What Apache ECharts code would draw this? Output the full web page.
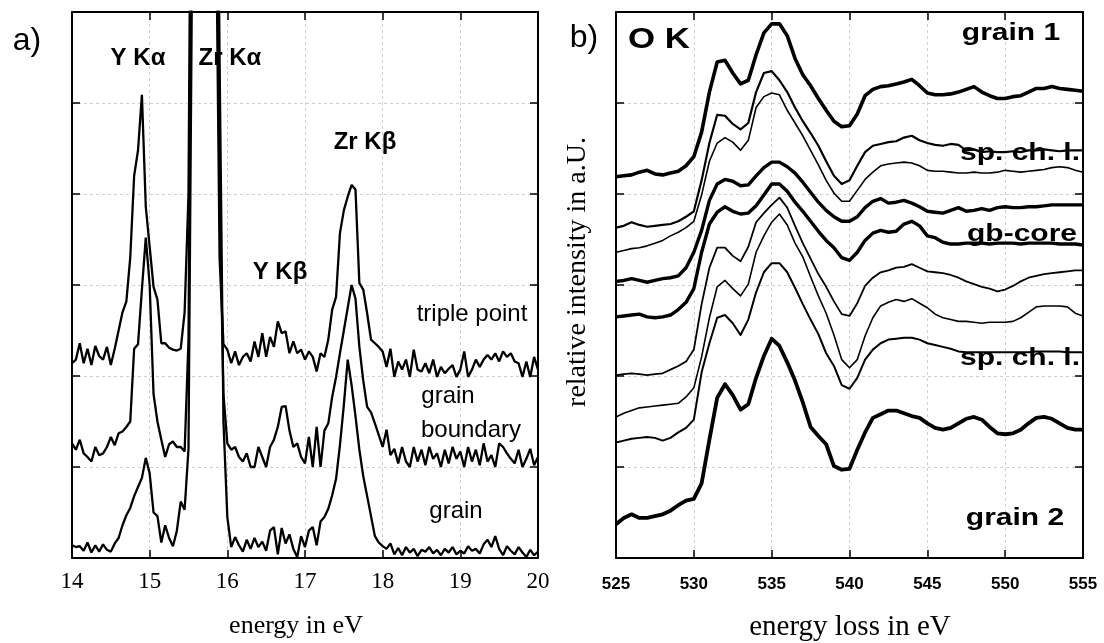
<!DOCTYPE html>
<html><head><meta charset="utf-8">
<script src="https://cdn.jsdelivr.net/npm/echarts/dist/echarts.min.js"></script>
<style>html,body{margin:0;padding:0;background:#fff}#c{width:1104px;height:643px}</style>
</head><body><div id="c"></div>
<script>
// ---------- panel a) : X-ray spectra, energy 14..20 eV, step 0.05 ----------
const eStartA = 14, eStepA = 0.05, nA = 121;
const triplePoint = [2.14,2.18,2.36,2.14,2.30,2.12,2.33,2.22,2.18,2.32,2.12,2.30,2.50,2.70,2.82,3.30,4.20,4.48,5.09,3.86,
 3.42,2.98,2.84,2.36,2.36,2.31,2.29,2.28,2.30,2.70,4.00,10.5,13,15,16,16,14,7.5,3.30,2.35,
 2.29,2.14,2.27,2.12,2.21,2.25,2.16,2.38,2.21,2.47,2.21,2.43,2.32,2.60,2.47,2.49,2.25,2.38,2.25,2.29,
 2.18,2.27,2.21,2.05,2.25,2.21,2.40,2.73,2.87,3.57,3.82,3.97,4.10,4.05,3.02,2.95,2.69,2.40,2.36,2.32,
 2.27,2.10,2.30,1.99,2.16,2.07,2.18,1.99,2.29,2.07,2.05,2.14,2.03,2.18,1.99,2.10,2.03,2.08,2.12,1.99,
 2.07,2.27,1.99,2.07,2.18,2.10,2.18,2.23,2.18,2.25,2.16,2.27,2.21,2.25,2.16,2.14,1.99,2.16,1.99,2.21,2.07];
const grainBoundary = [1.26,1.19,1.30,1.15,1.11,1.06,1.22,1.13,1.15,1.22,1.33,1.24,1.37,1.39,1.44,1.50,2.30,2.35,2.95,3.52,
 3.00,1.80,1.50,1.30,1.11,1.25,1.28,1.22,1.22,1.17,2.40,9,12.5,14.5,15.5,15.5,13.5,9,4.00,1.80,
 1.26,1.19,1.22,1.11,1.06,1.15,1.00,1.00,1.22,1.11,1.00,1.22,1.30,1.44,1.66,1.67,1.40,1.22,1.26,1.11,
 1.04,1.33,1.00,1.44,1.00,1.40,1.48,1.77,1.99,2.25,2.50,2.75,3.00,2.85,2.32,1.95,1.66,1.60,1.48,1.35,
 1.22,1.41,1.13,1.20,1.04,1.22,1.06,1.00,1.22,1.06,1.19,1.02,1.22,1.09,1.15,1.00,1.19,1.04,1.22,1.09,
 1.17,1.00,1.22,1.06,1.19,1.02,1.26,1.06,1.13,1.00,1.26,1.22,1.15,1.09,1.04,1.19,1.00,1.09,1.20,1.02,1.11];
const grainA = [0.14,0.12,0.13,0.08,0.17,0.06,0.14,0.07,0.15,0.09,0.07,0.16,0.22,0.36,0.47,0.55,0.68,0.78,0.88,1.10,
 0.93,0.50,0.46,0.17,0.36,0.22,0.13,0.30,0.62,0.53,1.20,7.0,12,14,15,15,13,10.5,5.5,1.5,
 0.45,0.12,0.23,0.14,0.07,0.20,0.10,0.22,0.12,0.18,0.08,0.30,0.34,0.04,0.33,0.16,0.26,0.10,0.01,0.24,
 0.12,0.30,0.34,0.14,0.40,0.45,0.54,0.69,0.87,1.24,1.68,2.18,1.90,1.56,1.19,0.90,0.68,0.46,0.24,0.17,
 0.13,0.10,0.16,0.04,0.11,0.03,0.12,0.06,0.10,0.02,0.09,0.07,0.12,0.05,0.09,0.03,0.10,0.06,0.12,0.04,
 0.08,0.05,0.13,0.08,0.10,0.05,0.15,0.20,0.12,0.24,0.10,0.03,0.13,0.08,0.04,0.12,0.06,0.01,0.09,0.03,0.07];

// ---------- panel b) : O K edge ELNES, 525..555 eV, step 0.5 ----------
const eStartB = 525, eStepB = 0.5, nB = 61;
const grain1 = [4.19,4.20,4.21,4.24,4.26,4.22,4.21,4.23,4.25,4.31,4.41,4.68,5.12,5.45,5.47,5.33,5.21,5.25,5.53,5.77,5.87,5.87,5.74,5.49,5.31,5.19,5.05,4.92,4.80,4.74,4.75,4.88,5.08,5.15,5.18,5.19,5.21,5.23,5.26,5.19,5.11,5.09,5.09,5.10,5.12,5.15,5.18,5.12,5.08,5.05,5.05,5.07,5.08,5.12,5.16,5.16,5.18,5.16,5.15,5.14,5.13];
const spch1a = [3.63,3.65,3.69,3.66,3.64,3.65,3.66,3.67,3.70,3.75,3.81,4.15,4.56,4.87,4.86,4.77,4.71,4.78,5.12,5.33,5.35,5.25,5.12,4.95,4.80,4.67,4.53,4.36,4.20,4.11,4.15,4.31,4.46,4.53,4.55,4.57,4.58,4.62,4.64,4.59,4.56,4.54,4.53,4.55,4.54,4.48,4.49,4.46,4.47,4.46,4.46,4.47,4.46,4.48,4.48,4.49,4.48,4.47,4.48,4.48,4.48];
const spch1b = [3.36,3.38,3.40,3.41,3.43,3.46,3.49,3.54,3.58,3.63,3.70,3.99,4.36,4.56,4.62,4.57,4.48,4.59,4.95,5.07,5.11,5.09,4.92,4.78,4.64,4.48,4.32,4.15,4.01,3.92,3.92,4.04,4.16,4.24,4.31,4.33,4.34,4.35,4.34,4.31,4.26,4.25,4.25,4.24,4.23,4.23,4.24,4.23,4.23,4.24,4.26,4.25,4.24,4.25,4.26,4.27,4.29,4.30,4.29,4.26,4.24];
const gbCoreA = [3.04,3.05,3.07,3.05,3.03,3.05,3.07,3.08,3.10,3.19,3.36,3.60,3.93,4.11,4.16,4.14,4.09,4.10,4.20,4.29,4.35,4.35,4.30,4.23,4.13,4.02,3.91,3.82,3.75,3.70,3.70,3.75,3.85,3.92,3.95,3.90,3.91,3.93,3.90,3.86,3.81,3.80,3.79,3.82,3.85,3.81,3.82,3.84,3.82,3.85,3.86,3.85,3.85,3.86,3.86,3.87,3.88,3.88,3.88,3.88,3.88];
const gbCoreB = [2.65,2.66,2.67,2.68,2.65,2.64,2.65,2.67,2.73,2.81,2.96,3.36,3.67,3.80,3.86,3.81,3.78,3.79,3.87,3.99,4.11,4.11,4.03,3.91,3.81,3.70,3.59,3.49,3.41,3.30,3.27,3.36,3.49,3.57,3.60,3.58,3.59,3.67,3.70,3.65,3.54,3.52,3.47,3.45,3.45,3.46,3.46,3.46,3.45,3.46,3.46,3.46,3.45,3.46,3.46,3.46,3.46,3.45,3.45,3.45,3.44];
const spch2a = [2.01,2.02,2.03,2.02,2.01,2.02,2.03,2.07,2.11,2.16,2.29,2.79,3.19,3.41,3.41,3.32,3.26,3.42,3.69,3.79,3.88,3.96,3.85,3.65,3.46,3.29,3.12,2.98,2.82,2.68,2.66,2.80,2.99,3.08,3.14,3.16,3.19,3.20,3.23,3.19,3.15,3.14,3.13,3.11,3.08,3.04,3.01,2.98,2.96,2.93,2.95,2.99,3.04,3.08,3.10,3.12,3.13,3.14,3.15,3.16,3.16];
const spch2b = [1.55,1.59,1.62,1.65,1.66,1.67,1.68,1.69,1.70,1.77,1.87,2.21,2.64,2.98,3.05,2.96,2.88,3.01,3.36,3.54,3.69,3.78,3.66,3.46,3.31,3.09,2.88,2.69,2.45,2.18,2.09,2.18,2.44,2.64,2.77,2.81,2.84,2.82,2.85,2.80,2.75,2.68,2.64,2.62,2.60,2.60,2.59,2.58,2.59,2.59,2.59,2.60,2.64,2.70,2.76,2.77,2.77,2.77,2.76,2.69,2.66];
const spch2c = [1.27,1.29,1.31,1.32,1.33,1.32,1.29,1.32,1.38,1.43,1.52,2.04,2.36,2.64,2.67,2.58,2.45,2.62,2.92,3.14,3.24,3.24,3.14,2.97,2.79,2.62,2.46,2.25,2.11,1.90,1.86,1.98,2.18,2.29,2.36,2.40,2.41,2.42,2.42,2.40,2.36,2.34,2.32,2.30,2.27,2.26,2.26,2.26,2.26,2.26,2.26,2.26,2.26,2.26,2.27,2.27,2.27,2.27,2.26,2.26,2.26];
const grain2 = [0.37,0.44,0.48,0.44,0.44,0.46,0.48,0.52,0.58,0.63,0.65,0.82,1.30,1.76,1.91,1.79,1.63,1.69,1.98,2.22,2.41,2.33,2.15,1.95,1.71,1.44,1.34,1.25,1.01,0.97,0.98,1.19,1.38,1.54,1.58,1.62,1.62,1.59,1.56,1.54,1.48,1.43,1.41,1.43,1.48,1.53,1.55,1.52,1.44,1.37,1.36,1.37,1.41,1.48,1.54,1.55,1.53,1.48,1.43,1.41,1.41];

// text labels
const annotA = [
  {t:'Y K\u03b1', x:138, y:58, bold:true},
  {t:'Zr K\u03b1', x:230, y:58, bold:true},
  {t:'Zr K\u03b2', x:365, y:142, bold:true},
  {t:'Y K\u03b2', x:280, y:272, bold:true},
  {t:'triple point', x:472, y:314},
  {t:'grain', x:448, y:396},
  {t:'boundary', x:471, y:430},
  {t:'grain', x:456, y:511}
];
const annotB = [
  {t:'grain 1', x:1011, y:33},
  {t:'sp. ch. l.', x:1020, y:153},
  {t:'gb-core', x:1022, y:234},
  {t:'sp. ch. l.', x:1020, y:358},
  {t:'grain 2', x:1015, y:518}
];
const titleA = 'energy in eV', titleB = 'energy loss in eV', titleY = 'relative intensity in a.U.';

const xsA = []; for (let i = 0; i < nA; i++) xsA.push(+(eStartA + i * eStepA).toFixed(2));
const xsB = []; for (let i = 0; i < nB; i++) xsB.push(+(eStartB + i * eStepB).toFixed(1));
const pairs = (xs, ys) => xs.map((x, i) => [x, ys[i]]);

const SANS = 'Liberation Sans, Arial, sans-serif';
const SERIF = 'Liberation Serif, Times New Roman, serif';
const gridLine = {show:true, showMinLine:false, showMaxLine:false, lineStyle:{color:'#cfcfcf', type:[3,3], width:1}};
const tick = {show:true, inside:true, length:8, lineStyle:{color:'#000', width:1.5}};
const axLine = {show:true, onZero:false, lineStyle:{color:'#000', width:2}};

function xAx(gi, min, max, iv, pos, main, labelStyle) {
  return {gridIndex:gi, type:'value', min, max, interval:iv, position:pos,
    axisLine:axLine, axisTick:tick,
    axisLabel: main ? Object.assign({show:true, showMinLabel:true, showMaxLabel:true, color:'#000'}, labelStyle) : {show:false},
    splitLine: main ? gridLine : {show:false}};
}
function yAx(gi, pos, main) {
  return {gridIndex:gi, type:'value', min:0, max:6, interval:1, position:pos,
    axisLine:axLine, axisTick:tick, axisLabel:{show:false},
    splitLine: main ? gridLine : {show:false}};
}

const series = [];
[triplePoint, grainBoundary, grainA].forEach(d => series.push({
  type:'line', xAxisIndex:0, yAxisIndex:0, data:pairs(xsA, d), showSymbol:false, clip:true,
  lineStyle:{color:'#000', width:2.3}, z:5}));
const bSets = [[grain1,3.6],[spch1a,2.2],[spch1b,1.6],[gbCoreA,3.4],[gbCoreB,3.4],[spch2a,1.8],[spch2b,1.6],[spch2c,2.0],[grain2,3.8]];
bSets.forEach(([d,w]) => series.push({
  type:'line', xAxisIndex:2, yAxisIndex:2, data:pairs(xsB, d), showSymbol:false, clip:true,
  lineStyle:{color:'#000', width:w, join:'round'}, z:5}));

const mid = {fill:'#000', align:'center', verticalAlign:'middle'};
const graphic = [
  {type:'text', x:27, y:41, style:Object.assign({text:'a)', font:'32px ' + SANS}, mid)},
  {type:'text', x:584, y:38, style:Object.assign({text:'b)', font:'32px ' + SANS}, mid)},
  {type:'text', x:659, y:40, scaleX:1.2, style:Object.assign({text:'O K', font:'bold 29px ' + SANS}, mid)},
  {type:'text', x:578, y:272, rotation:Math.PI/2, style:Object.assign({text:titleY, font:'28px ' + SERIF}, mid)},
  {type:'text', x:296, y:626, style:Object.assign({text:titleA, font:'26px ' + SERIF}, mid)},
  {type:'text', x:850, y:627, style:Object.assign({text:titleB, font:'29px ' + SERIF}, mid)}
];
annotA.forEach(a => graphic.push({type:'text', x:a.x, y:a.y, z:1,
  style:Object.assign({text:a.t, font:(a.bold ? 'bold ' : '') + '24px ' + SANS}, mid)}));
annotB.forEach(a => graphic.push({type:'text', x:a.x, y:a.y, z:1, scaleX:1.25,
  style:Object.assign({text:a.t, font:'bold 24px ' + SANS}, mid)}));

const chart = echarts.init(document.getElementById('c'), null, {renderer:'canvas'});
chart.setOption({
  animation:false,
  backgroundColor:'#fff',
  grid:[
    {left:72, top:12, width:466, height:546, show:false},
    {left:616, top:12, width:467, height:546, show:false}
  ],
  xAxis:[
    xAx(0, 14, 20, 1, 'bottom', true, {fontFamily:SERIF, fontSize:23, margin:12}),
    xAx(0, 14, 20, 1, 'top', false),
    xAx(1, 525, 555, 5, 'bottom', true, {fontFamily:SANS, fontWeight:'bold', fontSize:17, margin:18}),
    xAx(1, 525, 555, 5, 'top', false)
  ],
  yAxis:[ yAx(0,'left',true), yAx(0,'right',false), yAx(1,'left',true), yAx(1,'right',false) ],
  series,
  graphic
});
</script></body></html>
